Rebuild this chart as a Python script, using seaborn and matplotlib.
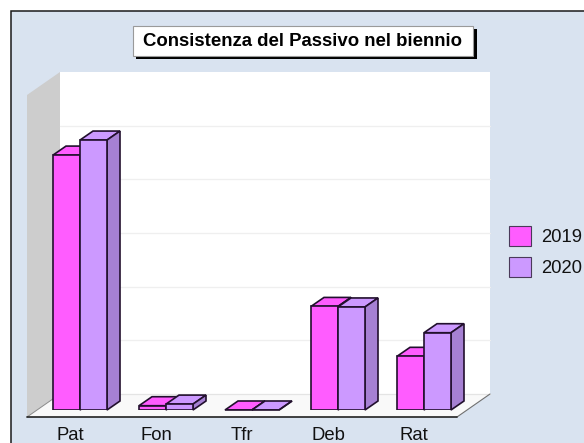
import matplotlib
matplotlib.use("Agg")
import matplotlib.pyplot as plt
from matplotlib.patches import Polygon, Rectangle
from matplotlib.transforms import ScaledTranslation
import pandas as pd
import seaborn as sns

categories = ["Pat", "Fon", "Tfr", "Deb", "Rat"]
values_2019 = [4.75, 0.08, 0.0, 1.93, 1.0]
values_2020 = [5.03, 0.11, 0.0, 1.92, 1.44]
series_names = ["2019", "2020"]
title_text = "Consistenza del Passivo nel biennio"

FRONT = {"2019": "#FF5CFF", "2020": "#CC99FF"}
SIDE = {"2019": "#C848C8", "2020": "#A680D3"}
EDGE = "#22102E"
BG = "#D9E3F0"

sns.set_theme(style="white")
plt.rcParams["font.family"] = ["Liberation Sans", "DejaVu Sans"]

W, H = 584, 443
fig = plt.figure(figsize=(W / 100, H / 100), dpi=100, facecolor="white")

# pixel-coordinate overlay for the frame and the chart's 3D room
room = fig.add_axes([0, 0, 1, 1], zorder=0)
room.set_xlim(0, W)
room.set_ylim(H, 0)
room.axis("off")
room.add_patch(Rectangle((10.5, 10.5), W, H, fc=BG, ec="#1A1A1A", lw=1.1))

left_f, right_f, floor_f, wall_h = 27, 457, 417, 322
dx_w, dy_w = 33, -23
room.add_patch(Polygon([(left_f + dx_w, floor_f + dy_w - wall_h), (right_f + dx_w, floor_f + dy_w - wall_h),
                        (right_f + dx_w, floor_f + dy_w), (left_f + dx_w, floor_f + dy_w)], fc="white", ec="none"))
room.add_patch(Polygon([(left_f, floor_f), (left_f, floor_f - wall_h),
                        (left_f + dx_w, floor_f + dy_w - wall_h), (left_f + dx_w, floor_f + dy_w)],
                       fc="#CDCDCD", ec="none"))
room.add_patch(Polygon([(left_f, floor_f), (right_f, floor_f), (right_f + dx_w, floor_f + dy_w),
                        (left_f + dx_w, floor_f + dy_w)], fc="#F9F9F9", ec="none"))
for i in range(1, 6):
    gy = floor_f + dy_w - i * wall_h / 6
    room.plot([left_f + dx_w, right_f + dx_w], [gy, gy], color="#EFEFEF", lw=0.9)
room.plot([left_f + dx_w, right_f + dx_w], [floor_f + dy_w] * 2, color="#E4E4E4", lw=0.9)
room.plot([left_f, left_f + dx_w], [floor_f, floor_f + dy_w], color="#8A8A8A", lw=0.7)
room.plot([right_f, right_f + dx_w], [floor_f, floor_f + dy_w], color="#707070", lw=0.8)
room.plot([left_f, right_f], [floor_f, floor_f], color="#222222", lw=1.2)

# main seaborn axes: 37..467 px wide, baseline at y=410 px, 6 units high
ax = fig.add_axes([37 / W, (H - 410) / H, 430 / W, 322 / H], zorder=1)
ax.patch.set_alpha(0)
df = pd.DataFrame({
    "cat": categories * 2,
    "year": [series_names[0]] * 5 + [series_names[1]] * 5,
    "val": values_2019 + values_2020,
})
sns.barplot(data=df, x="cat", y="val", hue="year", order=categories, hue_order=series_names,
            palette=FRONT, width=54 / 86, gap=0, saturation=1, ax=ax, legend=False,
            edgecolor=EDGE, linewidth=1.2)
ax.set_ylim(0, 6)
ax.set_xlim(-0.5, 4.5)
ax.set_xlabel("")
ax.set_ylabel("")
ax.set_yticks([])
sns.despine(ax=ax, left=True, bottom=True)
ax.tick_params(axis="x", length=0, pad=12.2, labelsize=13.3, labelcolor="#111111")
ax.set_xticks(range(5), categories)
shift = ScaledTranslation(-10 / 100, 0, fig.dpi_scale_trans)
for lab in ax.get_xticklabels():
    lab.set_transform(lab.get_transform() + shift)

# add 3D depth to each bar, from the bars seaborn drew
to_room = room.transData.inverted()
ddx, ddy = 13, -9
for z, (year, cont) in enumerate(zip(series_names, ax.containers)):
    for bar in cont:
        bar.set_zorder(3 + 2 * z)
        (x0, y0), (x1, y1) = to_room.transform(
            ax.transData.transform([(bar.get_x(), bar.get_y() + bar.get_height()),
                                    (bar.get_x() + bar.get_width(), bar.get_y())]))
        top = Polygon([(x0, y0), (x1, y0), (x1 + ddx, y0 + ddy), (x0 + ddx, y0 + ddy)],
                      fc=FRONT[year], ec=EDGE, lw=1.2, zorder=2 + 2 * z,
                      transform=room.transData, clip_on=False)
        side = Polygon([(x1, y0), (x1 + ddx, y0 + ddy), (x1 + ddx, y1 + ddy), (x1, y1)],
                       fc=SIDE[year], ec=EDGE, lw=1.2, zorder=2 + 2 * z,
                       transform=room.transData, clip_on=False)
        ax.add_patch(top)
        ax.add_patch(side)

# title box with hard shadow
over = fig.add_axes([0, 0, 1, 1], zorder=2)
over.set_xlim(0, W)
over.set_ylim(H, 0)
over.axis("off")
over.add_patch(Rectangle((136, 29), 341, 30, fc="black", ec="none"))
over.add_patch(Rectangle((132.5, 25.5), 340.5, 30.5, fc="white", ec="#9A9A9A", lw=0.8))
over.text(302.5, 41.5, title_text, ha="center", va="center", fontsize=13.45,
          fontweight="bold", color="black")

# legend
handles = [Rectangle((0, 0), 1, 1, fc=FRONT[y], ec="#4A3A5A", lw=0.8) for y in series_names]
fig.legend(handles, series_names, loc="upper left", bbox_to_anchor=(509 / W, 1 - 226 / H),
           bbox_transform=fig.transFigure, frameon=False, fontsize=13.3, borderpad=0, borderaxespad=0,
           handlelength=1.19, handleheight=1.3, labelspacing=0.58, handletextpad=0.54,
           labelcolor="#111111")

fig.savefig("out.png", dpi=100, facecolor="white")
